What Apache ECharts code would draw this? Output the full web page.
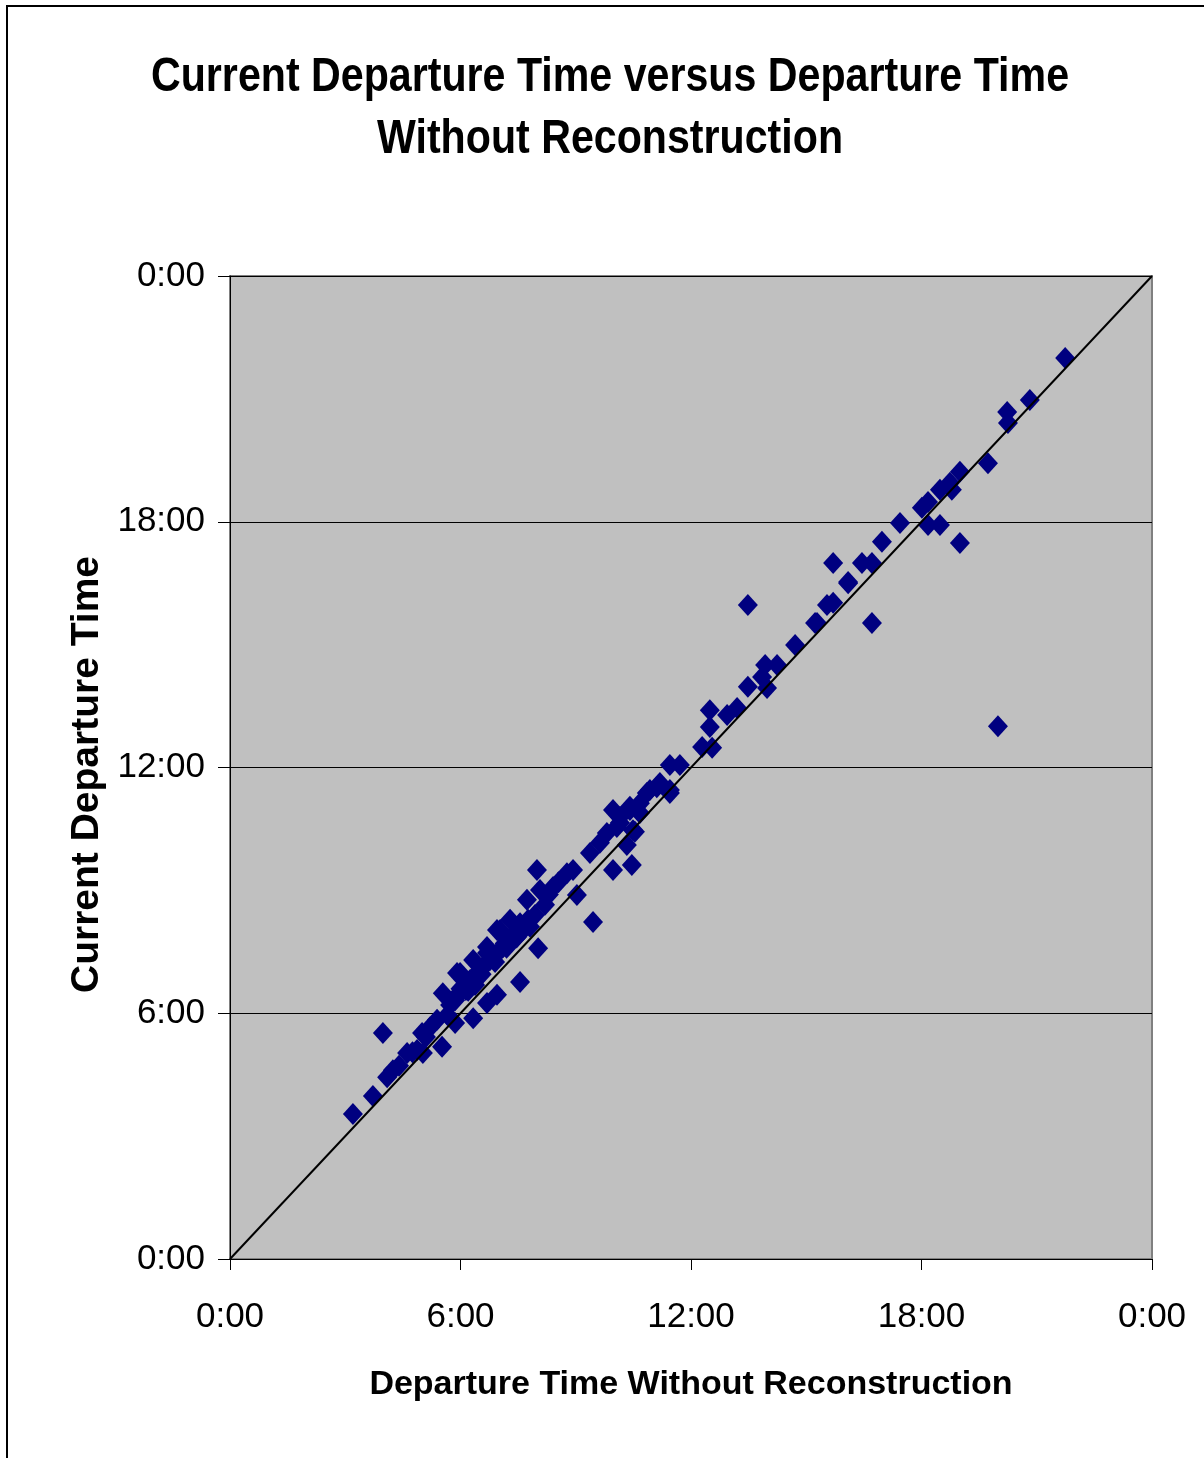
<!DOCTYPE html>
<html>
<head>
<meta charset="utf-8">
<script src="https://cdn.jsdelivr.net/npm/echarts@6/dist/echarts.min.js"></script>
<style>
  html, body { margin: 0; padding: 0; background: #fff; }
  #chart { width: 1204px; height: 1458px; }
</style>
</head>
<body>
<div id="chart"></div>
<script>
// Departure time without reconstruction (hours)
const departureWithout = [
  3.20, 3.72, 3.98, 4.09, 4.24, 4.61, 4.87, 5.02, 5.00, 5.21,
  5.52, 5.39, 6.33, 5.54, 5.91, 6.69, 6.95, 7.55, 6.95, 6.69,
  8.02, 7.29, 6.07, 6.25, 6.51, 6.77, 7.11, 7.47, 7.81, 5.86,
  5.66, 5.73, 5.93, 6.14, 6.38, 6.46, 6.64, 6.85, 7.03, 7.21,
  7.37, 7.63, 7.76, 7.94, 5.86, 7.99, 9.45, 10.46, 9.97, 9.97,
  9.03, 10.33, 10.54, 10.15, 11.11, 11.45, 7.03, 7.55, 7.73, 8.07,
  8.41, 8.77, 8.93, 9.37, 9.63, 9.81, 10.15, 10.41, 10.67, 10.85,
  5.99, 6.33, 6.69, 13.48, 16.71, 16.09, 15.54, 15.70, 15.28, 14.71,
  14.24, 13.93, 13.85, 13.48, 13.98, 13.20, 12.94, 12.49, 12.49, 12.29,
  12.55, 11.71, 11.45, 11.19, 10.93, 11.45, 10.41, 10.67, 10.49, 10.07,
  19.73, 19.00, 18.48, 18.17, 18.01, 18.17, 18.48, 18.74, 18.79, 19.00,
  17.44, 16.97, 16.45, 16.71, 15.70, 16.09, 15.23, 21.74, 20.82, 20.23,
  20.25, 19.99, 8.20, 8.55, 8.30, 6.20, 6.55, 6.90, 7.20, 7.45,
  7.70, 6.00, 6.40, 6.80, 7.15, 4.40, 4.75, 5.10
];
// Current departure time (hours)
const currentDeparture = [
  3.54, 3.98, 5.52, 4.44, 4.61, 5.03, 5.10, 5.03, 5.52, 5.66,
  5.18, 5.84, 5.88, 6.49, 6.98, 7.47, 8.03, 6.76, 6.45, 6.25,
  7.59, 8.28, 6.64, 6.81, 7.06, 7.30, 7.62, 7.86, 8.11, 6.32,
  5.96, 6.20, 6.45, 6.57, 6.69, 6.93, 7.18, 7.42, 7.54, 7.79,
  7.91, 8.03, 8.28, 8.40, 5.76, 9.50, 8.23, 9.62, 9.50, 10.96,
  8.89, 10.11, 10.43, 10.65, 11.52, 11.38, 8.03, 8.20, 8.77, 9.01,
  9.08, 9.42, 9.50, 9.91, 10.16, 10.40, 10.79, 11.04, 11.13, 11.38,
  6.98, 7.30, 7.62, 15.97, 15.53, 16.50, 15.97, 16.02, 15.53, 14.99,
  14.50, 14.50, 14.21, 13.97, 13.94, 13.45, 13.28, 13.40, 12.99, 12.50,
  12.48, 12.06, 12.06, 11.62, 11.45, 11.45, 10.96, 10.89, 10.47, 10.55,
  19.43, 17.48, 17.92, 17.92, 18.34, 18.48, 18.78, 18.95, 18.78, 19.22,
  17.97, 17.51, 16.99, 16.99, 16.99, 16.53, 15.53, 22.00, 20.97, 20.68,
  20.41, 13.01, 8.65, 9.20, 8.90, 6.55, 6.95, 7.25, 7.60, 7.85,
  8.15, 6.60, 6.90, 7.35, 7.70, 4.72, 5.05, 5.42
];
// Reference line y = x (hours)
const referenceLine = [[0, 0], [24, 24]];

const titleLines = 'Current Departure Time versus Departure Time\nWithout Reconstruction';
const xName = 'Departure Time Without Reconstruction';
const yName = 'Current Departure Time';

const FONT = '"Liberation Sans", Arial, Helvetica, sans-serif';

function fmt(v) {
  const h = Math.round(v) % 24;
  return h + ':00';
}

const points = departureWithout.map((x, i) => [x, currentDeparture[i]]);

const chart = echarts.init(document.getElementById('chart'), null, { renderer: 'canvas' });
chart.setOption({
  animation: false,
  backgroundColor: '#ffffff',
  graphic: [
    {
      type: 'rect', z: 100, silent: true,
      shape: { x: 7, y: 6, width: 1300, height: 1600 },
      style: { fill: 'none', stroke: '#000', lineWidth: 2 }
    },
    {
      type: 'text', z: 100, x: 610, y: 108, scaleX: 0.84,
      style: {
        x: 0, y: 0, text: titleLines, align: 'center', verticalAlign: 'middle',
        font: 'bold 49px ' + FONT, fill: '#000', lineHeight: 62
      }
    }
  ],
  grid: {
    left: 230, top: 276, width: 922, height: 983,
    show: true, backgroundColor: '#c0c0c0', borderColor: '#808080', borderWidth: 2
  },
  xAxis: {
    type: 'value', min: 0, max: 24, interval: 6,
    name: xName, nameLocation: 'middle', nameGap: 109,
    nameTextStyle: { fontFamily: FONT, fontSize: 34, fontWeight: 'bold', color: '#000' },
    axisLine: { show: true, lineStyle: { color: '#000', width: 1 } },
    axisTick: { show: true, length: 11, inside: false, lineStyle: { color: '#000' } },
    axisLabel: { formatter: fmt, fontFamily: FONT, fontSize: 35, color: '#000', margin: 41 },
    splitLine: { show: false }
  },
  yAxis: {
    type: 'value', min: 0, max: 24, interval: 6,
    name: yName, nameLocation: 'middle', nameGap: 118, nameRotate: 90,
    nameTextStyle: { fontFamily: FONT, fontSize: 39, fontWeight: 'bold', color: '#000', padding: [0, 14, 0, 0] },
    axisLine: { show: true, lineStyle: { color: '#000', width: 1 } },
    axisTick: { show: true, length: 12, inside: false, lineStyle: { color: '#000' } },
    axisLabel: { formatter: fmt, fontFamily: FONT, fontSize: 35, color: '#000', margin: 25 },
    splitLine: { show: true, lineStyle: { color: '#000', width: 1 } }
  },
  series: [
    {
      type: 'scatter', name: 'Departures', data: points,
      symbol: 'diamond', symbolSize: [20, 22],
      itemStyle: { color: '#000080', opacity: 1 },
      z: 2
    },
    {
      type: 'line', name: 'y = x', data: referenceLine,
      symbol: 'none', lineStyle: { color: '#000', width: 2 }, z: 3
    }
  ]
});
</script>
</body>
</html>
